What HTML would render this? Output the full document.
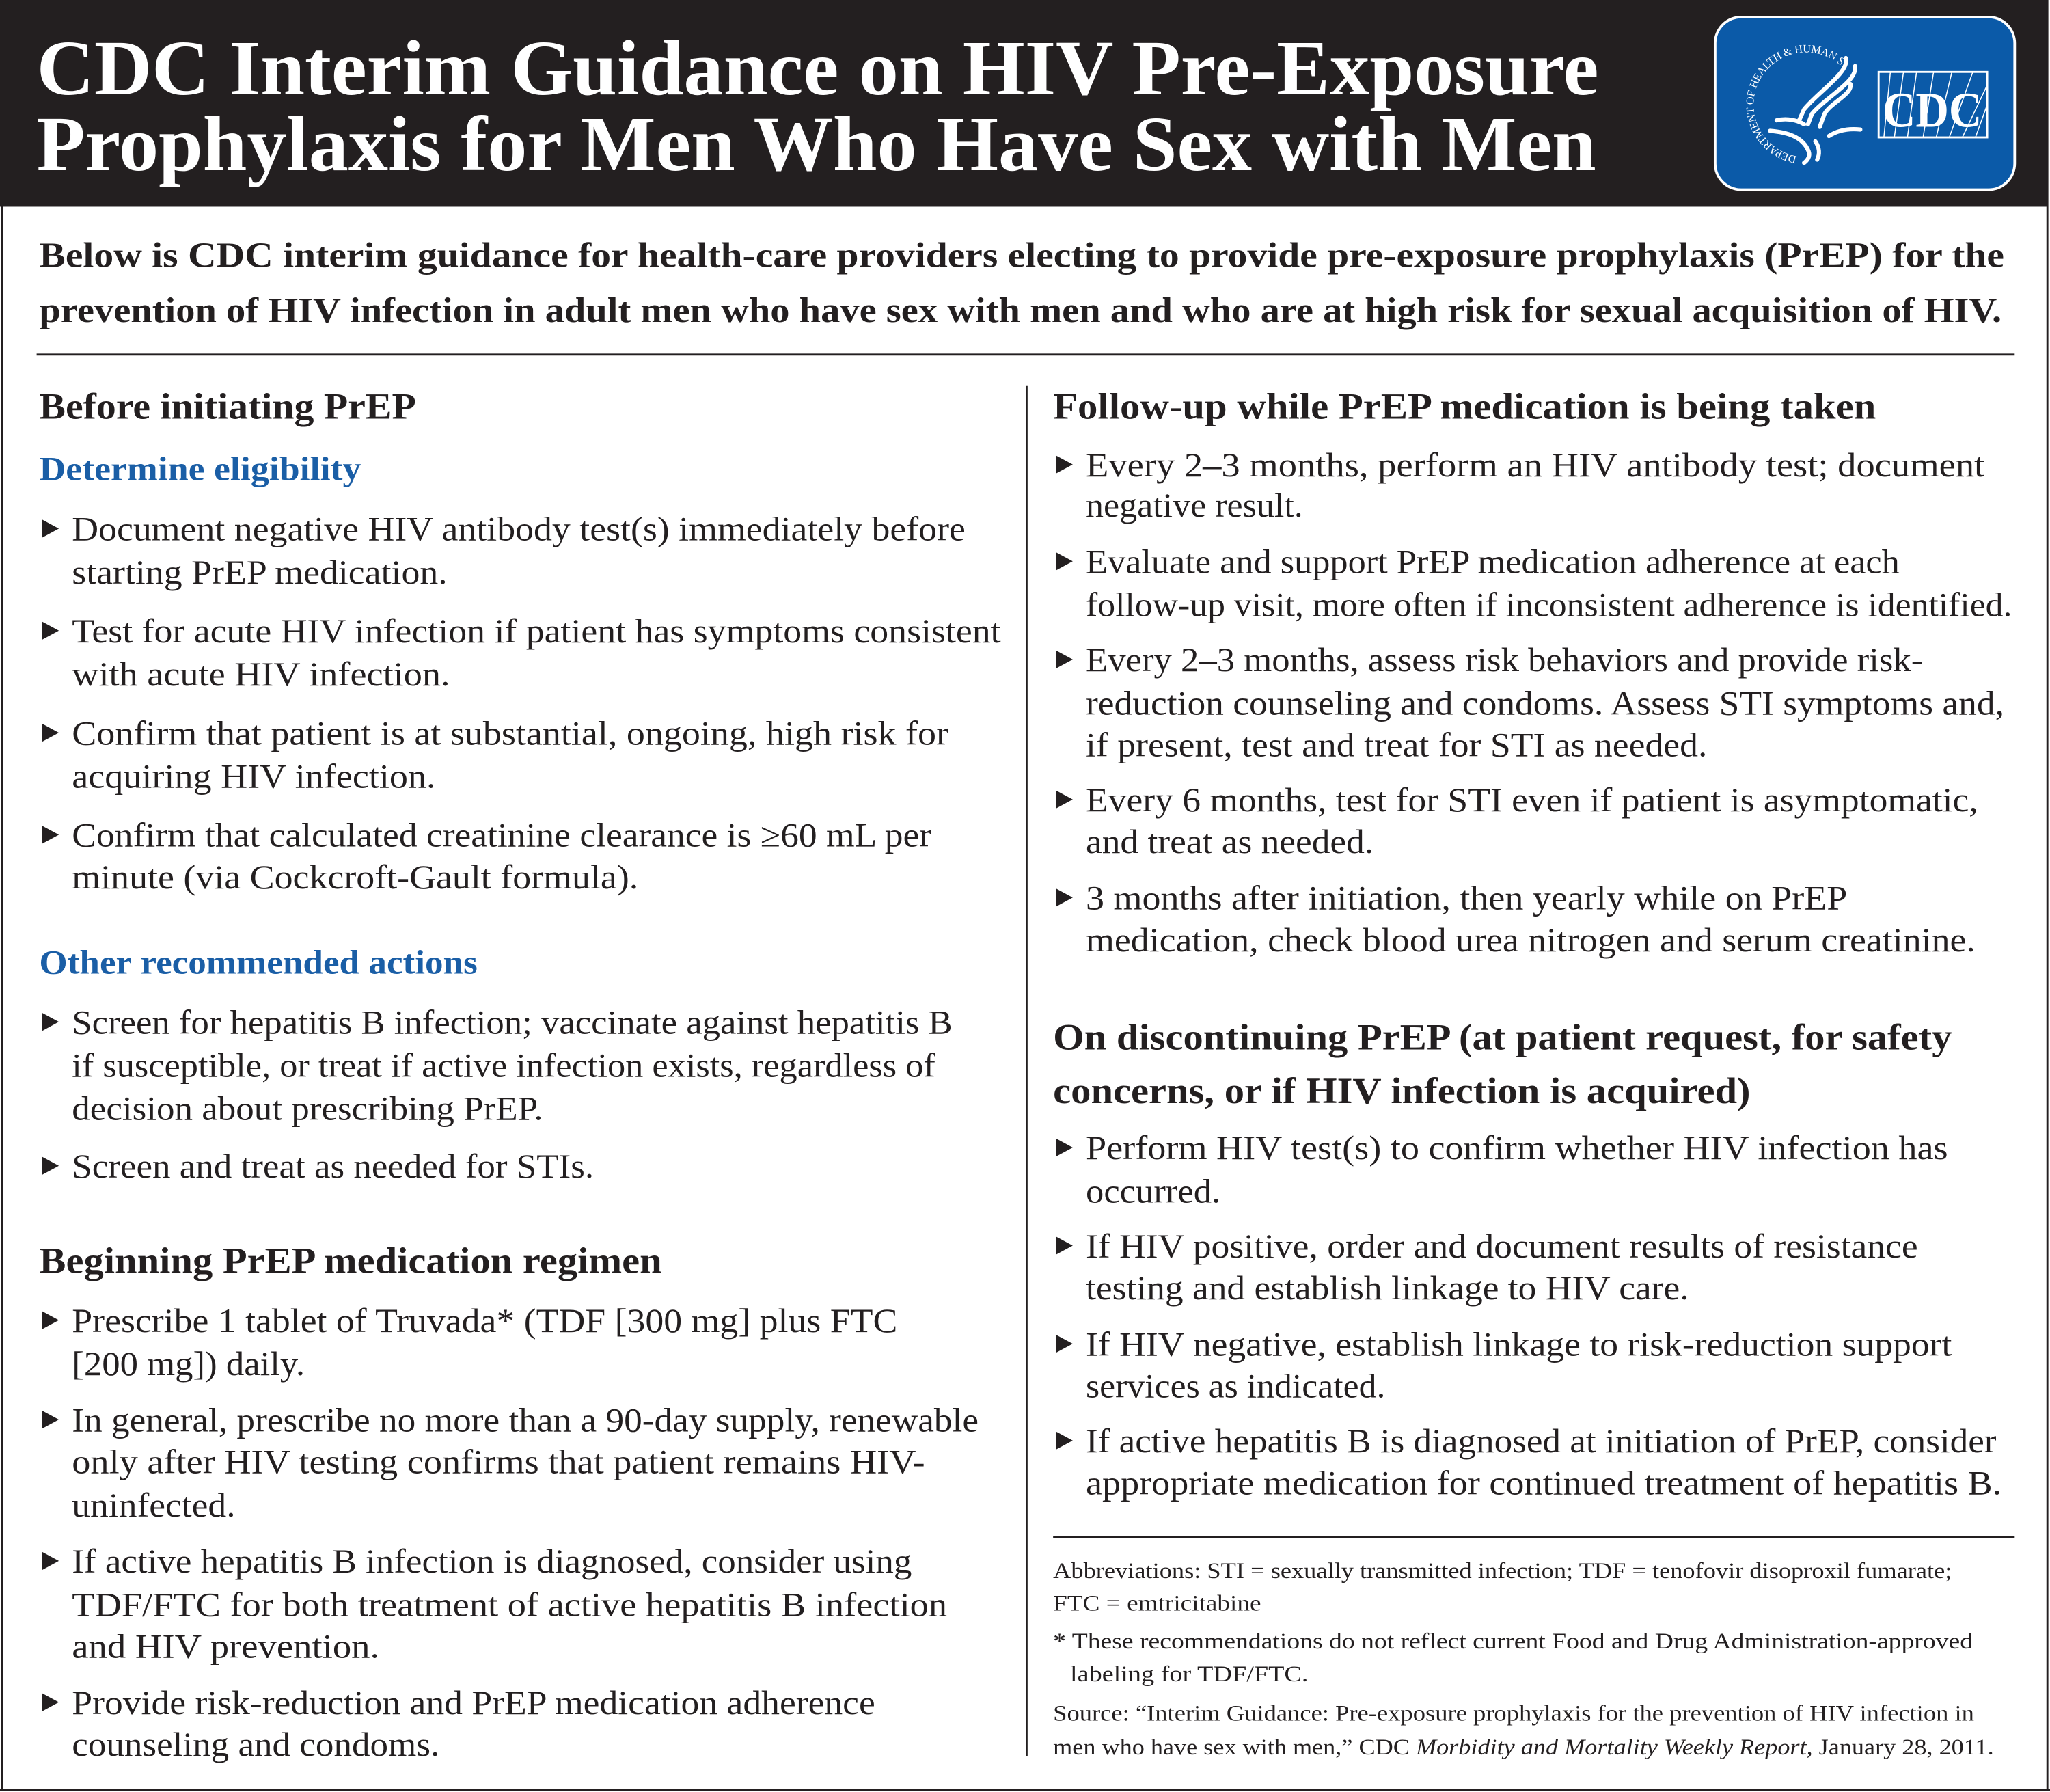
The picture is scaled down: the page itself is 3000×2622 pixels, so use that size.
<!DOCTYPE html>
<html><head><meta charset="utf-8">
<style>html,body{margin:0;padding:0;background:#fff}svg{display:block}</style>
</head><body>
<svg xmlns="http://www.w3.org/2000/svg" width="3000" height="2622" viewBox="0 0 1567 1369.6" preserveAspectRatio="none" font-family="Liberation Serif, serif">
<defs>
<path id="arc" d="M1373.5,119.4 A40 40 0 1 1 1406.2,49.4"/>
</defs>
<rect x="0" y="0" width="1567" height="1369.6" fill="#fff"/>
<rect x="0" y="0" width="1565" height="158" fill="#231f20"/>
<line x1="1.5" y1="0" x2="1.5" y2="1369" stroke="#231f20" stroke-width="1.5"/>
<line x1="1565" y1="0" x2="1565" y2="1369" stroke="#231f20" stroke-width="1.5"/>
<line x1="0" y1="1368" x2="1567" y2="1368" stroke="#231f20" stroke-width="2"/>
<g fill="#fff" font-weight="bold" font-size="60">
<text x="28" y="72" textLength="1194" lengthAdjust="spacingAndGlyphs">CDC Interim Guidance on HIV Pre-Exposure</text>
<text x="28" y="130" textLength="1192" lengthAdjust="spacingAndGlyphs">Prophylaxis for Men Who Have Sex with Men</text>
</g>
<!-- logo -->
<rect x="1311" y="13" width="229" height="132" rx="20" fill="#0b5aa8" stroke="#fff" stroke-width="2"/>
<text font-size="8.5" fill="#fff"><textPath href="#arc" textLength="200" lengthAdjust="spacing">DEPARTMENT OF HEALTH &amp; HUMAN SERVICES·USA</textPath></text>
<g fill="none" stroke="#fff" stroke-width="3.2" stroke-linecap="round" stroke-linejoin="round">
<path d="M1411,44.4 C1414,55 1390,70 1379,83.6 L1375,92.5"/>
<path d="M1418,50.5 C1420,62 1396,74 1385,87 L1382,95"/>
<path d="M1414.5,64.3 C1416,72 1400,78 1394.6,87 L1391,97"/>
<path d="M1353,100 C1365,101 1378,104 1382.5,115.7 C1384,120 1381,123 1379,124.5"/>
<path d="M1358,92 C1366,90 1374,92 1379,95"/>
<path d="M1387.6,108 C1391,113 1391,118 1389,122"/>
<path d="M1422,99 C1412,98 1404,100 1398,104"/>
</g>
<rect x="1436" y="55" width="83" height="50" fill="none" stroke="#fff" stroke-width="1.5"/>
<g stroke="#fff" stroke-width="0.8">
<line x1="1445" y1="55" x2="1440" y2="105"/><line x1="1455" y1="55" x2="1448" y2="105"/><line x1="1465" y1="55" x2="1458" y2="105"/><line x1="1478" y1="55" x2="1470" y2="105"/><line x1="1492" y1="55" x2="1480" y2="105"/><line x1="1508" y1="55" x2="1490" y2="105"/><line x1="1519" y1="65" x2="1500" y2="105"/><line x1="1519" y1="80" x2="1510" y2="105"/>
</g>
<text x="1477" y="97" font-size="38" font-weight="bold" fill="#fff" text-anchor="middle" textLength="76" lengthAdjust="spacingAndGlyphs">CDC</text>
<!-- intro -->
<g font-weight="bold" font-size="27" fill="#231f20">
<text x="30" y="204" textLength="1502" lengthAdjust="spacingAndGlyphs">Below is CDC interim guidance for health-care providers electing to provide pre-exposure prophylaxis (PrEP) for the</text>
<text x="30" y="246" textLength="1500" lengthAdjust="spacingAndGlyphs">prevention of HIV infection in adult men who have sex with men and who are at high risk for sexual acquisition of HIV.</text>
</g>
<line x1="28" y1="271" x2="1540" y2="271" stroke="#231f20" stroke-width="1.5"/>
<line x1="785" y1="295" x2="785" y2="1342" stroke="#231f20" stroke-width="1"/>
<!-- headings -->
<g font-weight="bold" font-size="28" fill="#231f20">
<text x="30" y="320" textLength="288" lengthAdjust="spacingAndGlyphs">Before initiating PrEP</text>
<text x="30" y="973" textLength="476" lengthAdjust="spacingAndGlyphs">Beginning PrEP medication regimen</text>
<text x="805" y="320" textLength="629" lengthAdjust="spacingAndGlyphs">Follow-up while PrEP medication is being taken</text>
<text x="805" y="802" textLength="687" lengthAdjust="spacingAndGlyphs">On discontinuing PrEP (at patient request, for safety</text>
<text x="805" y="843" textLength="533" lengthAdjust="spacingAndGlyphs">concerns, or if HIV infection is acquired)</text>
</g>
<g font-weight="bold" font-size="26" fill="#1a5ea6">
<text x="30" y="367" textLength="246" lengthAdjust="spacingAndGlyphs">Determine eligibility</text>
<text x="30" y="744" textLength="335" lengthAdjust="spacingAndGlyphs">Other recommended actions</text>
</g>
<!-- bullets -->
<g fill="#231f20">
<polygon points="32,397 32,411 45,404"/><polygon points="32,475 32,489 45,482"/><polygon points="32,553 32,567 45,560"/><polygon points="32,631 32,645 45,638"/>
<polygon points="32,774 32,788 45,781"/><polygon points="32,884 32,898 45,891"/>
<polygon points="32,1002 32,1016 45,1009"/><polygon points="32,1078 32,1092 45,1085"/><polygon points="32,1186 32,1200 45,1193"/><polygon points="32,1294 32,1308 45,1301"/>
<polygon points="807,348 807,362 820,355"/><polygon points="807,422 807,436 820,429"/><polygon points="807,497 807,511 820,504"/><polygon points="807,604 807,618 820,611"/><polygon points="807,679 807,693 820,686"/>
<polygon points="807,870 807,884 820,877"/><polygon points="807,945 807,959 820,952"/><polygon points="807,1020 807,1034 820,1027"/><polygon points="807,1094 807,1108 820,1101"/>
</g>
<g font-size="26" fill="#231f20">
<text x="55" y="413" textLength="683" lengthAdjust="spacingAndGlyphs">Document negative HIV antibody test(s) immediately before</text>
<text x="55" y="446" textLength="287" lengthAdjust="spacingAndGlyphs">starting PrEP medication.</text>
<text x="55" y="491" textLength="710" lengthAdjust="spacingAndGlyphs">Test for acute HIV infection if patient has symptoms consistent</text>
<text x="55" y="524" textLength="289" lengthAdjust="spacingAndGlyphs">with acute HIV infection.</text>
<text x="55" y="569" textLength="670" lengthAdjust="spacingAndGlyphs">Confirm that patient is at substantial, ongoing, high risk for</text>
<text x="55" y="602" textLength="278" lengthAdjust="spacingAndGlyphs">acquiring HIV infection.</text>
<text x="55" y="647" textLength="657" lengthAdjust="spacingAndGlyphs">Confirm that calculated creatinine clearance is ≥60 mL per</text>
<text x="55" y="679" textLength="433" lengthAdjust="spacingAndGlyphs">minute (via Cockcroft-Gault formula).</text>
<text x="55" y="790" textLength="673" lengthAdjust="spacingAndGlyphs">Screen for hepatitis B infection; vaccinate against hepatitis B</text>
<text x="55" y="823" textLength="660" lengthAdjust="spacingAndGlyphs">if susceptible, or treat if active infection exists, regardless of</text>
<text x="55" y="856" textLength="360" lengthAdjust="spacingAndGlyphs">decision about prescribing PrEP.</text>
<text x="55" y="900" textLength="399" lengthAdjust="spacingAndGlyphs">Screen and treat as needed for STIs.</text>
<text x="55" y="1018" textLength="631" lengthAdjust="spacingAndGlyphs">Prescribe 1 tablet of Truvada* (TDF [300 mg] plus FTC</text>
<text x="55" y="1051" textLength="178" lengthAdjust="spacingAndGlyphs">[200 mg]) daily.</text>
<text x="55" y="1094" textLength="693" lengthAdjust="spacingAndGlyphs">In general, prescribe no more than a 90-day supply, renewable</text>
<text x="55" y="1126" textLength="652" lengthAdjust="spacingAndGlyphs">only after HIV testing confirms that patient remains HIV-</text>
<text x="55" y="1159" textLength="125" lengthAdjust="spacingAndGlyphs">uninfected.</text>
<text x="55" y="1202" textLength="642" lengthAdjust="spacingAndGlyphs">If active hepatitis B infection is diagnosed, consider using</text>
<text x="55" y="1235" textLength="669" lengthAdjust="spacingAndGlyphs">TDF/FTC for both treatment of active hepatitis B infection</text>
<text x="55" y="1267" textLength="235" lengthAdjust="spacingAndGlyphs">and HIV prevention.</text>
<text x="55" y="1310" textLength="614" lengthAdjust="spacingAndGlyphs">Provide risk-reduction and PrEP medication adherence</text>
<text x="55" y="1342" textLength="281" lengthAdjust="spacingAndGlyphs">counseling and condoms.</text>

<text x="830" y="364" textLength="687" lengthAdjust="spacingAndGlyphs">Every 2–3 months, perform an HIV antibody test; document</text>
<text x="830" y="395" textLength="166" lengthAdjust="spacingAndGlyphs">negative result.</text>
<text x="830" y="438" textLength="622" lengthAdjust="spacingAndGlyphs">Evaluate and support PrEP medication adherence at each</text>
<text x="830" y="471" textLength="708" lengthAdjust="spacingAndGlyphs">follow-up visit, more often if inconsistent adherence is identified.</text>
<text x="830" y="513" textLength="640" lengthAdjust="spacingAndGlyphs">Every 2–3 months, assess risk behaviors and provide risk-</text>
<text x="830" y="546" textLength="702" lengthAdjust="spacingAndGlyphs">reduction counseling and condoms. Assess STI symptoms and,</text>
<text x="830" y="578" textLength="475" lengthAdjust="spacingAndGlyphs">if present, test and treat for STI as needed.</text>
<text x="830" y="620" textLength="682" lengthAdjust="spacingAndGlyphs">Every 6 months, test for STI even if patient is asymptomatic,</text>
<text x="830" y="652" textLength="220" lengthAdjust="spacingAndGlyphs">and treat as needed.</text>
<text x="830" y="695" textLength="582" lengthAdjust="spacingAndGlyphs">3 months after initiation, then yearly while on PrEP</text>
<text x="830" y="727" textLength="680" lengthAdjust="spacingAndGlyphs">medication, check blood urea nitrogen and serum creatinine.</text>
<text x="830" y="886" textLength="659" lengthAdjust="spacingAndGlyphs">Perform HIV test(s) to confirm whether HIV infection has</text>
<text x="830" y="919" textLength="103" lengthAdjust="spacingAndGlyphs">occurred.</text>
<text x="830" y="961" textLength="636" lengthAdjust="spacingAndGlyphs">If HIV positive, order and document results of resistance</text>
<text x="830" y="993" textLength="461" lengthAdjust="spacingAndGlyphs">testing and establish linkage to HIV care.</text>
<text x="830" y="1036" textLength="662" lengthAdjust="spacingAndGlyphs">If HIV negative, establish linkage to risk-reduction support</text>
<text x="830" y="1068" textLength="229" lengthAdjust="spacingAndGlyphs">services as indicated.</text>
<text x="830" y="1110" textLength="696" lengthAdjust="spacingAndGlyphs">If active hepatitis B is diagnosed at initiation of PrEP, consider</text>
<text x="830" y="1142" textLength="700" lengthAdjust="spacingAndGlyphs">appropriate medication for continued treatment of hepatitis B.</text>
</g>
<line x1="805" y1="1175" x2="1540" y2="1175" stroke="#231f20" stroke-width="1.5"/>
<g font-size="17" fill="#231f20">
<text x="805" y="1206" textLength="687" lengthAdjust="spacingAndGlyphs">Abbreviations: STI = sexually transmitted infection; TDF = tenofovir disoproxil fumarate;</text>
<text x="805" y="1231" textLength="159" lengthAdjust="spacingAndGlyphs">FTC = emtricitabine</text>
<text x="805" y="1260" textLength="703" lengthAdjust="spacingAndGlyphs">* These recommendations do not reflect current Food and Drug Administration-approved</text>
<text x="818" y="1285" textLength="182" lengthAdjust="spacingAndGlyphs">labeling for TDF/FTC.</text>
<text x="805" y="1315" textLength="704" lengthAdjust="spacingAndGlyphs">Source: “Interim Guidance: Pre-exposure prophylaxis for the prevention of HIV infection in</text>
<text x="805" y="1341" textLength="719" lengthAdjust="spacingAndGlyphs">men who have sex with men,” CDC <tspan font-style="italic">Morbidity and Mortality Weekly Report,</tspan> January 28, 2011.</text>
</g>
</svg>
</body></html>
